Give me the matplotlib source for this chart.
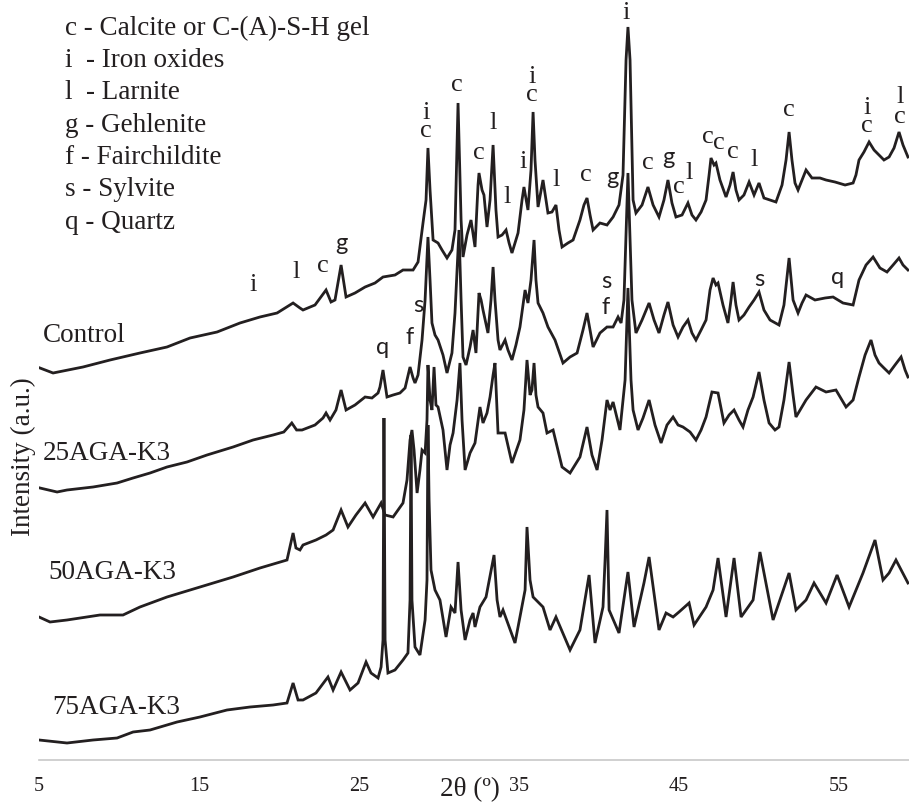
import matplotlib
matplotlib.use("Agg")
import matplotlib.pyplot as plt

# XRD patterns: 2theta (deg) and intensity (a.u., stacking offset included)
control_2t = [5.06, 5.88, 7.75, 9.44, 11.31, 13.0, 14.44, 16.13, 17.56, 18.81, 19.88, 20.88, 21.31, 21.5,
              22.25, 22.94, 23.25, 23.5, 23.88, 24.19, 24.75, 25.38, 26.0, 26.5, 27.25, 27.75, 28.38, 28.69,
              29.0, 29.19, 29.31, 29.44, 29.63, 29.94, 30.19, 30.5, 30.81, 31.0, 31.19, 31.38, 31.5, 31.75,
              32.0, 32.25, 32.44, 32.5, 32.69, 32.81, 33.0, 33.19, 33.38, 33.56, 33.69, 33.94, 34.19, 34.38,
              34.56, 34.94, 35.19, 35.31, 35.56, 35.75, 35.88, 36.0, 36.19, 36.5, 36.81, 37.06, 37.31, 37.5,
              37.69, 38.06, 38.38, 38.81, 39.06, 39.25, 39.44, 39.63, 40.06, 40.5, 40.88, 41.25, 41.5, 41.69,
              41.81, 41.94, 42.13, 42.31, 42.69, 43.06, 43.38, 43.75, 44.06, 44.31, 44.56, 44.81, 45.19, 45.56,
              45.81, 46.06, 46.38, 46.69, 46.88, 47.0, 47.19, 47.31, 47.56, 47.94, 48.19, 48.38, 48.56, 48.75,
              49.06, 49.38, 49.69, 50.0, 50.31, 50.69, 51.06, 51.44, 51.69, 51.88, 52.06, 52.25, 52.44, 52.69,
              52.94, 53.31, 53.81, 54.19, 54.75, 55.38, 55.88, 56.06, 56.25, 56.56, 56.88, 57.19, 57.5, 57.81,
              58.13, 58.44, 58.75, 59.0, 59.31]
control_i = [392, 387, 393, 400, 407, 413, 422, 428, 437, 443, 447, 457, 452, 450,
             455, 470, 458, 460, 495, 463, 467, 473, 477, 483, 485, 490, 490, 498,
             537, 560, 612, 570, 520, 517, 510, 502, 510, 530, 657, 540, 503, 525,
             540, 513, 575, 587, 570, 565, 533, 560, 615, 550, 523, 525, 530, 517,
             507, 527, 560, 573, 550, 590, 648, 600, 553, 580, 547, 548, 555, 530,
             513, 517, 520, 540, 555, 562, 545, 530, 537, 535, 543, 555, 585, 700,
             733, 700, 560, 547, 555, 573, 555, 543, 560, 580, 557, 543, 545, 557,
             545, 540, 548, 560, 585, 602, 595, 597, 580, 563, 575, 588, 570, 560,
             565, 578, 565, 577, 562, 560, 558, 575, 600, 628, 600, 577, 570, 580,
             590, 582, 582, 580, 578, 575, 577, 585, 600, 608, 618, 610, 605, 600,
             603, 612, 628, 615, 603]

k25_2t = [5.06, 6.13, 6.75, 8.38, 9.88, 10.88, 11.94, 13.0, 14.25, 15.5, 17.13, 18.38, 19.63, 20.3,
          20.8, 21.1, 21.44, 22.25, 22.75, 22.94, 23.19, 23.56, 23.88, 24.19, 24.75, 25.38, 25.81, 26.19,
          26.31, 26.5, 26.75, 27.13, 27.56, 27.88, 28.19, 28.38, 28.5, 28.69, 28.94, 29.13, 29.31, 29.44,
          29.56, 29.75, 29.94, 30.25, 30.5, 30.81, 31.0, 31.13, 31.25, 31.38, 31.5, 31.69, 31.94, 32.13,
          32.31, 32.5, 32.63, 32.75, 33.06, 33.25, 33.38, 33.5, 33.69, 33.81, 34.13, 34.31, 34.56, 34.81,
          35.06, 35.38, 35.56, 35.75, 35.94, 36.06, 36.19, 36.5, 36.81, 37.25, 37.75, 38.19, 38.63, 39.0,
          39.25, 39.44, 39.63, 40.06, 40.5, 40.88, 41.19, 41.38, 41.56, 41.81, 42.06, 42.31, 42.69, 43.13,
          43.44, 43.75, 44.06, 44.31, 44.63, 44.94, 45.25, 45.56, 45.81, 46.06, 46.38, 46.69, 46.94, 47.13,
          47.31, 47.44, 47.75, 48.06, 48.25, 48.38, 48.56, 48.75, 49.06, 49.38, 49.69, 50.0, 50.31, 50.69,
          51.25, 51.56, 51.88, 52.13, 52.44, 52.69, 52.94, 53.5, 54.13, 54.63, 55.25, 55.88, 56.25, 56.69,
          57.13, 57.56, 58.0, 58.38, 58.75, 59.0, 59.31]
k25_i = [272, 268, 270, 273, 277, 282, 287, 293, 298, 305, 313, 320, 325, 328,
         337, 330, 330, 335, 342, 347, 340, 350, 370, 350, 355, 363, 362, 367,
         373, 390, 363, 365, 367, 372, 393, 382, 377, 385, 420, 460, 523, 480,
         437, 425, 420, 405, 387, 407, 447, 490, 530, 460, 403, 395, 413, 430,
         407, 467, 460, 450, 427, 460, 493, 460, 420, 410, 420, 410, 400, 415,
         433, 470, 457, 480, 520, 480, 457, 447, 433, 420, 397, 403, 407, 430,
         447, 430, 413, 427, 433, 433, 443, 437, 460, 587, 460, 427, 440, 457,
         440, 427, 445, 458, 435, 423, 433, 440, 427, 420, 430, 440, 470, 482,
         475, 477, 455, 437, 460, 478, 455, 440, 445, 453, 460, 468, 450, 440,
         435, 455, 502, 460, 447, 457, 465, 460, 462, 463, 457, 455, 480, 495,
         503, 492, 488, 495, 502, 495, 490]

k50_2t = [5.0, 5.69, 6.75, 8.81, 10.25, 11.31, 13.0, 15.06, 17.13, 18.81, 20.06, 20.5, 20.88, 21.06,
          21.31, 21.5, 22.31, 22.94, 23.38, 23.88, 24.31, 24.81, 25.38, 25.88, 26.38, 26.63, 27.13, 27.75,
          28.0, 28.19, 28.31, 28.44, 28.63, 28.81, 28.94, 29.13, 29.25, 29.31, 29.44, 29.56, 29.69, 29.81,
          29.94, 30.25, 30.5, 30.69, 30.88, 31.13, 31.31, 31.44, 31.63, 31.94, 32.25, 32.56, 32.75, 33.0,
          33.19, 33.38, 33.5, 33.63, 33.69, 34.13, 34.56, 35.06, 35.31, 35.5, 35.69, 35.81, 35.94, 36.06,
          36.19, 36.5, 36.75, 37.13, 37.69, 38.19, 38.81, 39.25, 39.56, 39.88, 40.19, 40.5, 40.69, 40.88,
          41.31, 41.63, 41.81, 42.0, 42.13, 42.44, 42.75, 43.13, 43.5, 43.88, 44.25, 44.63, 44.94, 45.25,
          45.69, 46.06, 46.38, 46.69, 47.06, 47.44, 47.81, 48.13, 48.44, 48.75, 49.0, 49.31, 49.63, 50.0,
          50.31, 50.63, 51.0, 51.25, 51.56, 51.88, 52.13, 52.31, 52.94, 53.56, 54.19, 54.81, 55.44, 55.88,
          56.25, 56.63, 57.0, 57.25, 57.5, 57.81, 58.13, 58.5, 58.88, 59.13, 59.31]
k50_i = [143, 138, 140, 145, 145, 153, 163, 173, 183, 192, 198, 200, 227, 212,
         210, 215, 220, 225, 230, 250, 233, 245, 257, 243, 257, 245, 243, 257,
         280, 320, 330, 310, 267, 290, 310, 307, 340, 395, 360, 350, 393, 355,
         353, 330, 290, 315, 327, 360, 397, 340, 290, 307, 317, 353, 337, 347,
         363, 385, 397, 350, 327, 327, 297, 320, 350, 400, 365, 370, 397, 365,
         353, 347, 327, 330, 293, 287, 303, 333, 305, 290, 320, 360, 350, 358,
         330, 380, 472, 380, 350, 330, 342, 360, 335, 317, 335, 343, 335, 333,
         328, 320, 330, 343, 368, 367, 337, 345, 350, 340, 333, 350, 363, 388,
         360, 337, 330, 333, 360, 398, 365, 343, 360, 373, 368, 370, 353, 360,
         383, 405, 420, 405, 397, 392, 387, 395, 403, 390, 383]

k75_2t = [5.0, 6.75, 8.38, 9.88, 10.88, 11.94, 13.63, 15.06, 16.75, 18.19, 19.63, 20.5, 20.88, 21.19,
          21.5, 22.31, 23.06, 23.38, 23.88, 24.44, 24.94, 25.44, 25.75, 26.19, 26.38, 26.5, 26.56, 26.63,
          26.81, 27.25, 27.75, 28.06, 28.19, 28.25, 28.31, 28.5, 28.81, 29.13, 29.25, 29.31, 29.38, 29.5,
          29.75, 30.06, 30.44, 30.75, 31.0, 31.19, 31.38, 31.63, 31.94, 32.13, 32.25, 32.56, 32.94, 33.44,
          33.63, 33.81, 34.0, 34.75, 35.38, 35.5, 35.69, 35.88, 36.5, 36.94, 37.31, 38.19, 38.81, 39.38,
          39.75, 40.25, 40.38, 40.5, 40.63, 41.25, 41.81, 42.19, 42.81, 43.13, 43.75, 44.19, 44.63, 45.0,
          45.63, 45.94, 46.69, 47.13, 47.44, 47.94, 48.44, 48.88, 49.63, 50.06, 50.88, 51.88, 52.31, 52.94,
          53.44, 54.19, 54.88, 55.63, 56.5, 57.25, 57.75, 58.13, 58.56, 59.31]
k75_i = [20, 17, 20, 22, 28, 30, 38, 43, 50, 53, 55, 57, 77, 60,
         60, 67, 83, 70, 88, 70, 77, 98, 87, 82, 93, 120, 342, 120,
         87, 90, 100, 107, 160, 325, 160, 113, 105, 140, 180, 335, 260, 190,
         170, 160, 123, 153, 147, 198, 150, 120, 140, 147, 133, 153, 163, 205,
         160, 143, 150, 117, 170, 233, 180, 163, 153, 130, 143, 110, 130, 185,
         117, 153, 200, 250, 150, 127, 188, 133, 177, 203, 130, 147, 143, 148,
         157, 135, 153, 170, 202, 143, 202, 143, 160, 208, 140, 187, 150, 160,
         177, 157, 185, 153, 187, 220, 180, 187, 200, 177]

sample_names = ["Control", "25AGA-K3", "50AGA-K3", "75AGA-K3"]
sample_label_2t = [5.25, 5.25, 5.56, 5.81]
sample_label_i = [425, 307, 188, 53]

legend_lines = ["c - Calcite or C-(A)-S-H gel", "i  - Iron oxides", "l  - Larnite", "g - Gehlenite",
                "f - Fairchildite", "s - Sylvite", "q - Quartz"]

# phase marks: letter(s), 2theta, intensity
serif_marks = [("i", 18.38, 475), ("l", 21.06, 488), ("c", 22.75, 494),
               ("c", 31.13, 675), ("c", 32.5, 607),
               ("l", 33.38, 637), ("l", 34.25, 563), ("i", 35.25, 598),
               ("l", 37.31, 580), ("c", 39.19, 585), ("i", 41.69, 747),
               ("c", 43.06, 597), ("c", 45.0, 573), ("l", 45.63, 587), ("c", 46.81, 623),
               ("c", 47.5, 617), ("c", 48.38, 608), ("l", 49.69, 600), ("c", 51.88, 650),
               ("l", 58.81, 663), ("c", 58.81, 643)]
stacked_marks = [("i\nc", 29.19, 638), ("i\nc", 35.81, 674), ("i\nc", 56.75, 643)]
sans_marks = [("g", 23.88, 517), ("g", 40.81, 583), ("g", 44.31, 602),
              ("q", 26.5, 413), ("f", 28.19, 423), ("s", 28.69, 455),
              ("s", 40.44, 478), ("f", 40.44, 453), ("s", 50.0, 480), ("q", 54.94, 482)]

INK = "#231f20"
SERIF = "Liberation Serif"
SANS = "Lato"

fig = plt.figure(figsize=(9.09, 8.05), dpi=100)
ax = fig.add_axes([39 / 909, 45 / 805, 870 / 909, 760 / 805])

for tt, inten in [(control_2t, control_i), (k25_2t, k25_i), (k50_2t, k50_i), (k75_2t, k75_i)]:
    ax.plot(tt, inten, color=INK, lw=2.0, solid_joinstyle="miter")

ax.set_xlim(5, 5 + 870 / 16)
ax.set_ylim(0, 760)
ax.set_xticks([5, 15, 25, 35, 45, 55])
ax.set_yticks([])
for side in ["top", "right", "left"]:
    ax.spines[side].set_visible(False)
ax.spines["bottom"].set_color("#c8c8c8")
ax.spines["bottom"].set_linewidth(1.2)
ax.tick_params(axis="x", length=0, pad=12, labelsize=14.5, labelcolor=INK)
for lab in ax.get_xticklabels():
    lab.set_fontfamily(SERIF)

for name, x, y in zip(sample_names, sample_label_2t, sample_label_i):
    ax.text(x, y, name, family=SERIF, fontsize=19.5, color=INK, ha="left", va="center")

for k, line in enumerate(legend_lines):
    ax.text(6.63, 732 - k * 32.4, line, family=SERIF, fontsize=19.5, color=INK,
            ha="left", va="center")

for letter, x, y in serif_marks:
    ax.text(x, y, letter, family=SERIF, fontsize=19, color=INK, ha="center", va="center")
for letters, x, y in stacked_marks:
    ax.text(x, y, letters, family=SERIF, fontsize=19, color=INK, ha="center", va="center",
            multialignment="center", linespacing=0.72)
for letter, x, y in sans_marks:
    ax.text(x, y, letter, family=SANS, fontsize=17, color=INK, ha="center", va="center")

fig.text(470 / 909, 1 - 790 / 805, "2θ (º)", family=SERIF, fontsize=19.5, color=INK,
         ha="center", va="center")
fig.text(23 / 909, 1 - 457 / 805, "Intensity (a.u.)", family=SERIF, fontsize=19.5, color=INK,
         ha="center", va="center", rotation=90)

fig.savefig("out.png", dpi=100)
